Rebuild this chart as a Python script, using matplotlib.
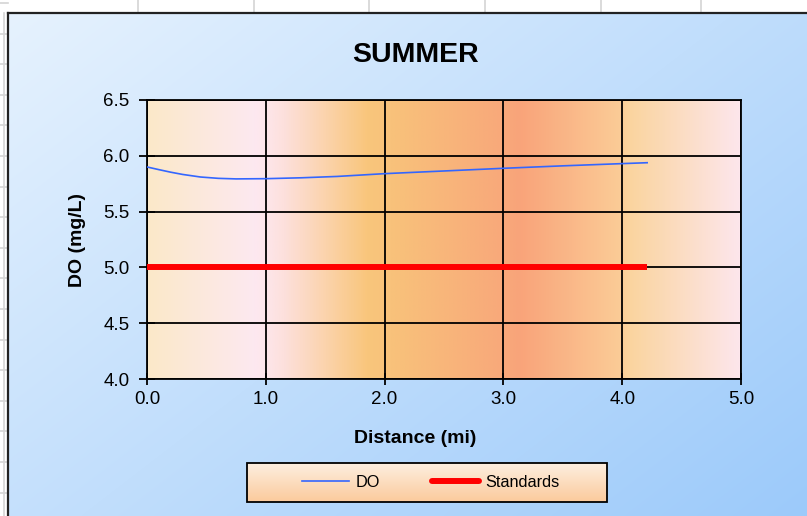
import numpy as np
import matplotlib
matplotlib.use("Agg")
import matplotlib.pyplot as plt
from matplotlib.colors import LinearSegmentedColormap, to_rgb
from matplotlib.lines import Line2D
from matplotlib.patches import Rectangle
from matplotlib.ticker import FormatStrFormatter

# ---------------- data ----------------
title = "SUMMER"
x_label = "Distance (mi)"
y_label = "DO (mg/L)"
do_distance = [0.0, 0.1, 0.2, 0.3, 0.45, 0.6, 0.75, 1.0, 1.3, 1.6, 2.0, 2.5, 3.0, 3.5, 4.0, 4.21]
do_values = [5.90, 5.876, 5.853, 5.833, 5.810, 5.798, 5.793, 5.795, 5.803, 5.815, 5.840,
             5.864, 5.888, 5.910, 5.930, 5.938]
std_distance = [0.0, 4.21]
std_values = [5.0, 5.0]
x_ticks = [0.0, 1.0, 2.0, 3.0, 4.0, 5.0]
y_ticks = [4.0, 4.5, 5.0, 5.5, 6.0, 6.5]
series_names = ["DO", "Standards"]

# plot-area gradient stops (distance, colour)
bg_stops = [(0.0, "#fbe9c9"), (0.9, "#fde8f0"), (1.0, "#fde6ea"), (1.15, "#fde0dc"),
            (1.85, "#f9c67c"), (2.05, "#f8c27b"), (2.95, "#f8aa7a"), (3.15, "#f9a47a"),
            (4.0, "#fbcc97"), (4.05, "#fad49d"), (5.0, "#fde6ec")]

plt.rcParams["font.family"] = ["Liberation Sans", "DejaVu Sans"]

W, H = 807, 516
fig = plt.figure(figsize=(W / 100, H / 100), dpi=100)
fig.patch.set_facecolor("white")

# ---------------- background / spreadsheet ----------------
bg = fig.add_axes([0, 0, 1, 1], zorder=-10)
bg.set_xlim(0, W)
bg.set_ylim(H, 0)
bg.axis("off")
x0, y0 = 8, 13
g = np.linspace(0, 1, 300)
t = (g[None, :] * 0.55 + g[:, None] * 0.45)
c0 = np.array(to_rgb("#e6f2fe"))
c1 = np.array(to_rgb("#9ccafa"))
img = c0 + (c1 - c0) * t[..., None]
bg.imshow(img, extent=[x0, W, H, y0], aspect="auto", interpolation="bilinear", zorder=0)
for xv in [138, 254, 369, 485, 601, 701]:
    bg.plot([xv, xv], [0, y0], color="#d4d4d4", lw=1.2, zorder=1)
for yv in np.arange(3, H, 30.6):
    bg.plot([0, x0], [yv, yv], color="#d4d4d4", lw=1.2, zorder=1)
bg.plot([3.5, 3.5], [y0, H], color="#d4d4d4", lw=1.2, zorder=1)
bg.plot([x0, x0], [y0, H], color="#222222", lw=1.6, zorder=2)
bg.plot([x0, W], [y0, y0], color="#222222", lw=1.6, zorder=2)

# legend box
lx0, lx1, ly0, ly1 = 247, 607, 463, 502
lg = np.linspace(0, 1, 100)[:, None]
lc0 = np.array(to_rgb("#fdefe0"))
lc1 = np.array(to_rgb("#fbca9c"))
limg = (lc0 + (lc1 - lc0) * lg[..., None]) * np.ones((1, 2, 1))
bg.imshow(limg, extent=[lx0, lx1, ly1, ly0], aspect="auto", interpolation="bilinear", zorder=3)
bg.add_patch(Rectangle((lx0, ly0), lx1 - lx0, ly1 - ly0, fill=False, ec="black", lw=1.3, zorder=4))

# ---------------- main axes ----------------
ax = fig.add_axes([147 / W, 1 - 379 / H, (741 - 147) / W, (379 - 100) / H])
ax.set_xlim(0, 5)
ax.set_ylim(4, 6.5)
pos = [p / 5.0 for p, _ in bg_stops]
cmap = LinearSegmentedColormap.from_list("plotbg", list(zip(pos, [c for _, c in bg_stops])))
ax.imshow(np.linspace(0, 1, 1000)[None, :], extent=[0, 5, 4, 6.5], aspect="auto",
          cmap=cmap, interpolation="bilinear", zorder=0)
ax.set_xticks(x_ticks)
ax.set_yticks(y_ticks)
ax.xaxis.set_major_formatter(FormatStrFormatter("%.1f"))
ax.yaxis.set_major_formatter(FormatStrFormatter("%.1f"))
ax.grid(True, color="black", lw=1.3)
for s in ax.spines.values():
    s.set_color("black")
    s.set_linewidth(1.3)
ax.tick_params(axis="x", direction="inout", length=8.6, width=1.3, pad=4, labelsize=13.5)
ax.tick_params(axis="y", direction="inout", length=11, width=1.3, pad=7, labelsize=13.5)

ax.plot(do_distance, do_values, color="#3366ff", lw=1.2, zorder=4, solid_joinstyle="round")
ax.plot(std_distance, std_values, color="#ff0000", lw=4.3, zorder=3, solid_capstyle="butt")

fig.text(415 / W, 1 - 62 / H, title, ha="center", va="baseline", fontsize=20.5, fontweight="bold")
fig.text(415 / W, 1 - 443 / H, x_label, ha="center", va="baseline", fontsize=14, fontweight="bold")
fig.text(78 / W, 1 - 240 / H, y_label, ha="center", va="center", rotation=90,
         fontsize=14, fontweight="bold")

handles = [Line2D([], [], color="#3366ff", lw=1.2),
           Line2D([], [], color="#ff0000", lw=4.3, solid_capstyle="round")]
leg = fig.legend(handles, series_names, loc="center", bbox_to_anchor=(431 / W, 1 - 482.5 / H),
                 ncol=2, frameon=False, fontsize=11.7, handlelength=2.9,
                 columnspacing=3.2, handletextpad=0.4)

fig.savefig("out.png", dpi=100)
